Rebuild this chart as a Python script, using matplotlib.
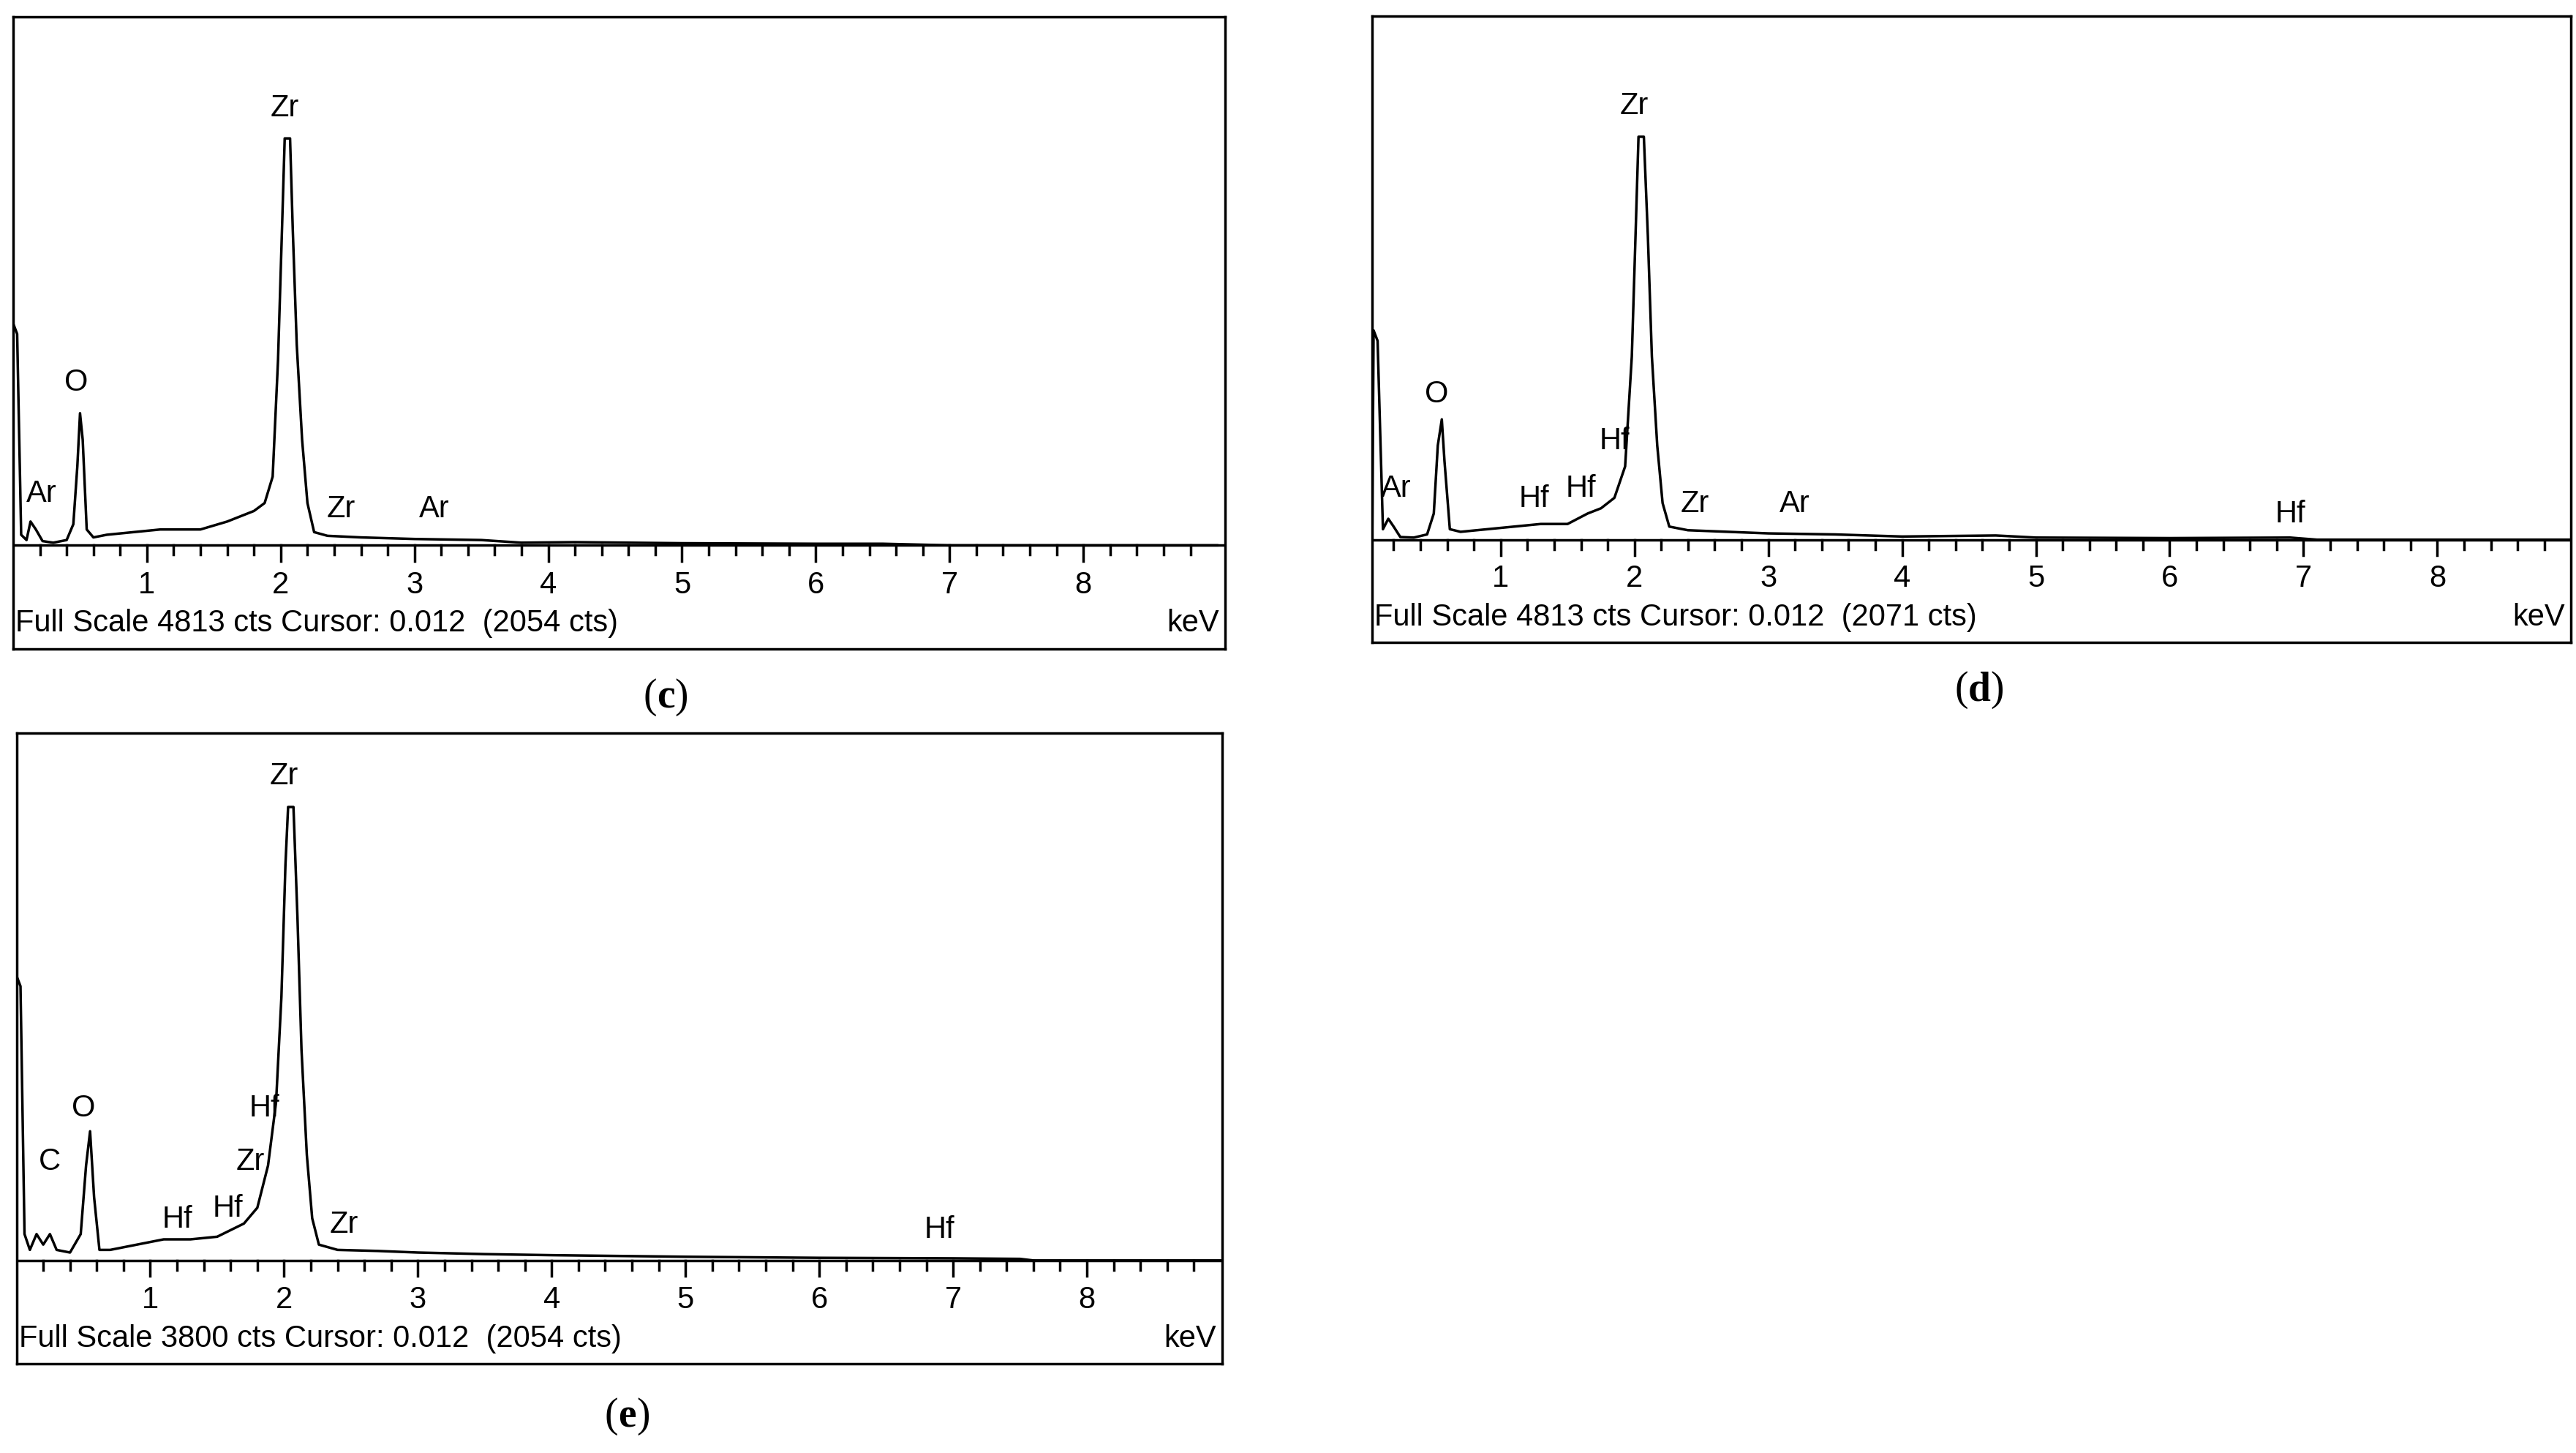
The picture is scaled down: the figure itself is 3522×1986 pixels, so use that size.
import matplotlib
matplotlib.use("Agg")
import matplotlib.pyplot as plt
import numpy as np

# ---- data (keV, relative counts; 1.0 = full scale) ----
c_x = [0.0, 0.0, 0.03, 0.06, 0.10, 0.13, 0.17, 0.22, 0.30, 0.40, 0.45, 0.48, 0.50, 0.52, 0.55, 0.60, 0.70, 0.90, 1.10, 1.40, 1.60, 1.70, 1.80, 1.88, 1.94, 1.98, 2.01, 2.03, 2.07, 2.09, 2.12, 2.16, 2.20, 2.25, 2.35, 2.60, 3.00, 3.50, 3.80, 4.20, 5.00, 6.00, 6.50, 7.00, 9.0]
c_y = [0.0, 0.42, 0.40, 0.02, 0.01, 0.045, 0.03, 0.008, 0.005, 0.01, 0.04, 0.15, 0.25, 0.20, 0.03, 0.015, 0.02, 0.025, 0.03, 0.03, 0.045, 0.055, 0.065, 0.08, 0.13, 0.35, 0.60, 0.77, 0.77, 0.60, 0.38, 0.20, 0.08, 0.025, 0.018, 0.015, 0.012, 0.01, 0.005, 0.006, 0.004, 0.003, 0.003, 0.0, 0.0]
c_labels = [("Zr", 2.03, 0.80), ("O", 0.47, 0.28), ("Ar", 0.21, 0.07), ("Zr", 2.45, 0.04), ("Ar", 3.15, 0.04)]
c_footer = "Full Scale 4813 cts Cursor: 0.012  (2054 cts)"

d_x = [0.04, 0.05, 0.08, 0.12, 0.16, 0.20, 0.25, 0.35, 0.45, 0.50, 0.53, 0.56, 0.58, 0.62, 0.70, 0.90, 1.10, 1.30, 1.50, 1.65, 1.75, 1.85, 1.93, 1.98, 2.01, 2.03, 2.07, 2.10, 2.13, 2.17, 2.21, 2.26, 2.40, 2.70, 3.00, 3.50, 4.00, 4.70, 5.00, 6.00, 6.90, 7.10, 9.0]
d_y = [0.0, 0.40, 0.38, 0.02, 0.04, 0.025, 0.005, 0.004, 0.01, 0.05, 0.18, 0.23, 0.15, 0.02, 0.015, 0.02, 0.025, 0.03, 0.03, 0.05, 0.06, 0.08, 0.14, 0.35, 0.60, 0.77, 0.77, 0.58, 0.35, 0.18, 0.07, 0.025, 0.018, 0.015, 0.012, 0.01, 0.006, 0.008, 0.004, 0.003, 0.004, 0.0, 0.0]
d_labels = [("Zr", 2.0, 0.80), ("O", 0.52, 0.25), ("Ar", 0.22, 0.07), ("Hf", 1.25, 0.05), ("Hf", 1.6, 0.07), ("Hf", 1.85, 0.16), ("Zr", 2.45, 0.04), ("Ar", 3.2, 0.04), ("Hf", 6.9, 0.02)]
d_footer = "Full Scale 4813 cts Cursor: 0.012  (2071 cts)"

e_x = [0.0, 0.0, 0.03, 0.06, 0.10, 0.15, 0.20, 0.25, 0.30, 0.40, 0.48, 0.52, 0.55, 0.58, 0.62, 0.70, 0.90, 1.10, 1.30, 1.50, 1.62, 1.70, 1.80, 1.88, 1.94, 1.98, 2.01, 2.03, 2.07, 2.10, 2.13, 2.17, 2.21, 2.26, 2.40, 2.70, 3.00, 3.50, 4.00, 5.00, 6.00, 7.00, 7.50, 7.60, 9.0]
e_y = [0.0, 0.54, 0.52, 0.05, 0.02, 0.05, 0.03, 0.05, 0.02, 0.015, 0.05, 0.18, 0.245, 0.12, 0.02, 0.02, 0.03, 0.04, 0.04, 0.045, 0.06, 0.07, 0.10, 0.18, 0.30, 0.50, 0.75, 0.86, 0.86, 0.65, 0.40, 0.20, 0.08, 0.03, 0.02, 0.018, 0.015, 0.012, 0.01, 0.007, 0.005, 0.004, 0.003, 0.0, 0.0]
e_labels = [("Zr", 2.0, 0.89), ("O", 0.5, 0.26), ("C", 0.25, 0.16), ("Hf", 1.2, 0.05), ("Hf", 1.58, 0.07), ("Zr", 1.75, 0.16), ("Hf", 1.85, 0.26), ("Zr", 2.45, 0.04), ("Hf", 6.9, 0.03)]
e_footer = "Full Scale 3800 cts Cursor: 0.012  (2054 cts)"

panels = [
    ("c", [0.0051, 0.5534, 0.4705, 0.435], (0.0, 9.06), c_x, c_y, c_labels, c_footer, (0.255, 0.52)),
    ("d", [0.5327, 0.558, 0.4654, 0.4307], (0.04, 9.0), d_x, d_y, d_labels, d_footer, (0.764, 0.525)),
    ("e", [0.0064, 0.0614, 0.468, 0.434], (0.0, 9.01), e_x, e_y, e_labels, e_footer, (0.240, 0.025)),
]

fig = plt.figure(figsize=(35.22, 19.86), dpi=100)
plt.rcParams['font.family'] = ['Liberation Sans', 'DejaVu Sans']
FS = 30
caps = []
for letter, rect, xl, xs, ys, labels, footer, cap in panels:
    ax = fig.add_axes(rect)
    ax.plot(xs, ys, color='black', lw=2.5)
    ax.set_xlim(*xl)
    ax.set_ylim(-0.196, 1.0)
    ax.axhline(0, color='black', lw=2.5)
    for s in ax.spines.values():
        s.set_linewidth(2.5)
    ax.set_xticks([]); ax.set_yticks([])
    for t in np.arange(0.2, 9.0, 0.2):
        major = abs(t - round(t)) < 1e-6
        ax.plot([t, t], [0, -0.03 if major else -0.018], color='black', lw=2.5)
        if major:
            ax.text(t, -0.075, str(int(round(t))), ha='center', va='center', fontsize=FS)
    for name, lx, ly in labels:
        ax.text(lx, ly, name, ha='center', va='bottom', fontsize=FS)
    ax.text(0.002, 0.04, footer, transform=ax.transAxes, ha='left', va='center', fontsize=FS)
    ax.text(0.995, 0.04, "keV", transform=ax.transAxes, ha='right', va='center', fontsize=FS)
    t1 = fig.text(cap[0], cap[1], "(", ha='right', va='center', fontsize=40, family='Liberation Serif')
    t2 = fig.text(cap[0], cap[1], letter, ha='left', va='center', fontsize=40, family='Liberation Serif', weight='bold')
    caps.append((t2, cap[1]))

fig.canvas.draw()
r = fig.canvas.get_renderer()
for t2, yy in caps:
    bb = t2.get_window_extent(r)
    x1 = bb.x1 / fig.bbox.width
    fig.text(x1, yy, ")", ha='left', va='center', fontsize=40, family='Liberation Serif')

fig.savefig("out.png", dpi=100)
